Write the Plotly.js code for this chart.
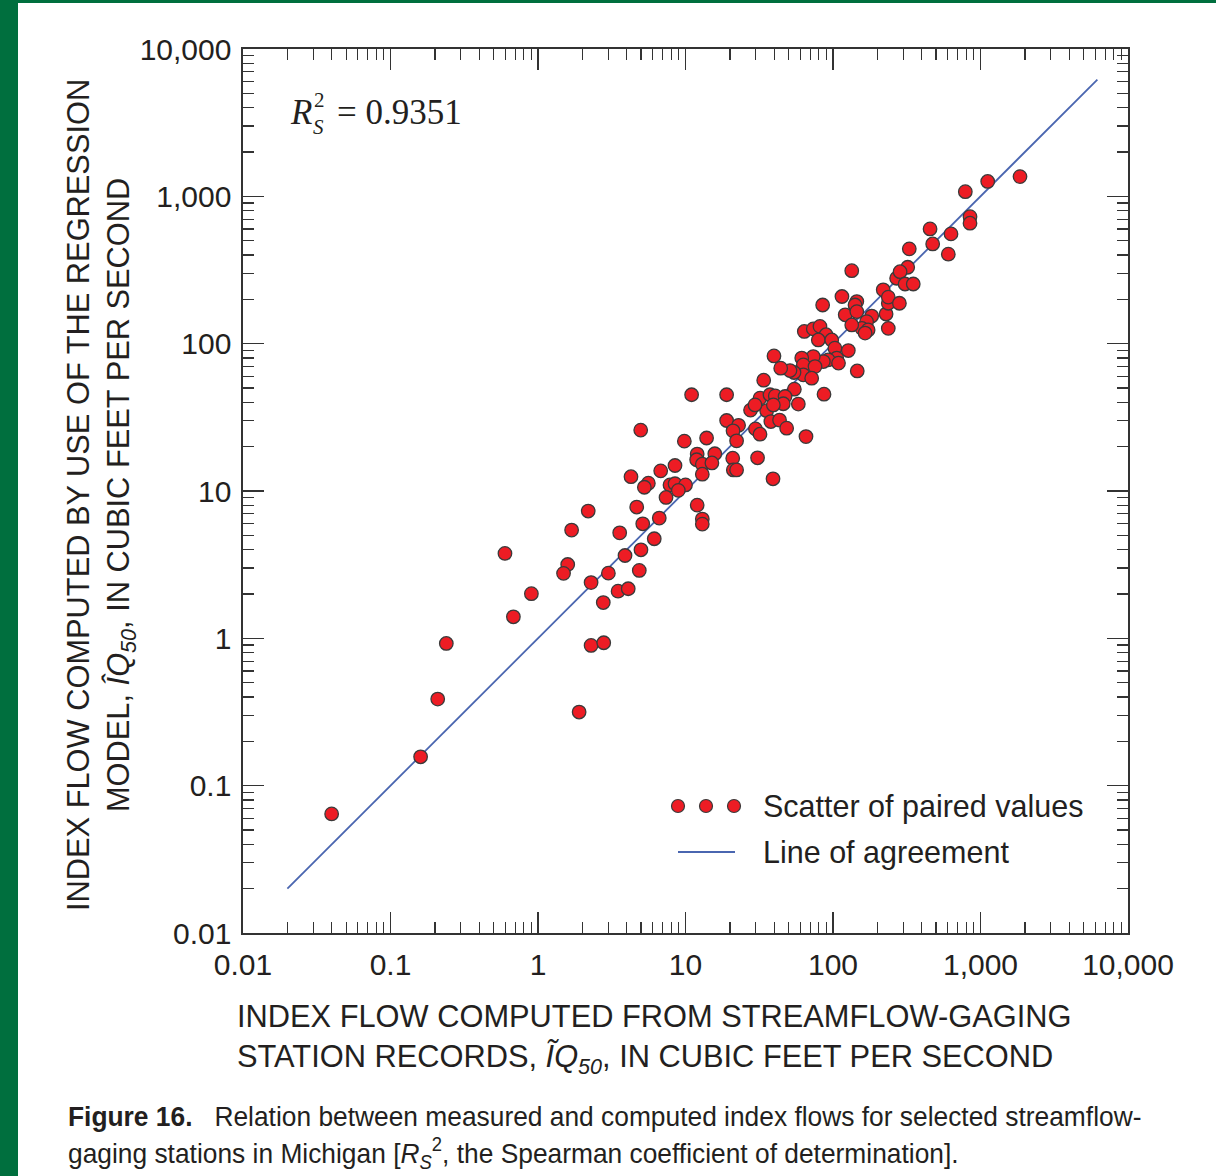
<!DOCTYPE html>
<html>
<head>
<meta charset="utf-8">
<script src="https://cdn.plot.ly/plotly-3.0.1.min.js"></script>
<style>
  html, body { margin: 0; padding: 0; background: #ffffff; }
  #wrap { width: 1198px; height: 1173px; border-left: 18px solid #006f3e; border-top: 3px solid #006f3e; }
  #chart { width: 1198px; height: 1173px; }
</style>
</head>
<body>
<div id="wrap"><div id="chart"></div></div>
<script>
// Index flow computed from streamflow-gaging station records (x), cubic feet per second
const measured = [
  0.0399, 0.160, 0.209, 0.239, 0.597, 0.681, 0.902, 1.69, 2.19, 1.59,
  1.49, 2.29, 3.00, 3.58, 3.89, 2.77, 3.49, 4.09, 2.29, 2.79,
  1.90, 4.67, 4.99, 4.86, 5.13, 4.27, 11.0, 19.0, 33.9, 4.97,
  9.82, 13.9, 19.0, 22.9, 21.0, 22.2, 27.6, 32.0, 37.4, 40.6,
  35.5, 29.8, 32.0, 37.9, 43.4, 30.8, 39.2, 20.9, 21.1, 22.2,
  12.0, 11.9, 13.0, 15.8, 15.1, 13.0, 8.49, 6.79, 5.60, 5.26,
  7.85, 8.49, 10.0, 8.94, 7.38, 12.0, 13.0, 13.0, 6.64, 6.14,
  134, 115, 85.1, 145, 141, 121, 145, 183, 169, 157,
  173, 165, 237, 229, 237, 219, 270, 134, 63.9, 73.5,
  81.6, 89.7, 79.5, 98.0, 103, 127, 106, 92.9, 109, 86.0,
  73.5, 61.4, 62.9, 75.5, 62.9, 71.7, 54.4, 51.1, 44.2, 39.8,
  146, 54.7, 47.3, 29.6, 46.0, 39.4, 58.2, 86.9, 48.5, 65.6,
  1853, 1119, 789, 849, 849, 455, 631, 474, 605, 329,
  321, 285, 308, 350, 237, 282
];
// Index flow computed by use of the regression model (y), cubic feet per second
const computed = [
  0.0643, 0.157, 0.387, 0.923, 3.77, 1.40, 2.01, 5.43, 7.31, 3.17,
  2.76, 2.39, 2.77, 5.20, 3.65, 1.75, 2.09, 2.17, 0.895, 0.933,
  0.316, 7.78, 3.99, 2.89, 5.99, 12.5, 45.0, 45.0, 56.5, 25.9,
  21.8, 22.9, 30.1, 27.9, 25.6, 21.9, 35.4, 42.7, 45.0, 44.2,
  35.1, 26.4, 24.3, 29.6, 30.3, 16.8, 12.1, 16.7, 13.9, 13.9,
  17.8, 16.3, 15.2, 17.9, 15.5, 13.0, 14.9, 13.7, 11.3, 10.6,
  11.0, 11.2, 11.0, 10.1, 9.04, 8.02, 6.45, 5.96, 6.55, 4.74,
  313, 209, 183, 193, 183, 157, 165, 154, 141, 127,
  124, 118, 127, 159, 188, 232, 278, 134, 121, 126,
  131, 115, 106, 106, 93.2, 89.8, 79.8, 77.6, 73.8, 75.6,
  81.7, 79.8, 71.8, 69.9, 61.4, 58.3, 63.7, 65.7, 68.2, 82.6,
  65.3, 49.1, 43.8, 38.4, 39.1, 38.4, 38.9, 45.4, 26.7, 23.4,
  1361, 1262, 1076, 728, 657, 601, 556, 475, 405, 440,
  330, 308, 254, 254, 207, 188
];
// Line of agreement end points (x = y)
const agreementX = [0.02, 6200];
const agreementY = [0.02, 6200];

// Tick labels
const tickValues = [0.01, 0.1, 1, 10, 100, 1000, 10000];
const tickLabels = ["0.01", "0.1", "1", "10", "100", "1,000", "10,000"];
const statText = "= 0.9351";

// minor tick positions (2..9 in each decade)
const minorVals = [];
for (let e = -2; e < 4; e++) {
  for (let d = 2; d <= 9; d++) minorVals.push(+(d * Math.pow(10, e)).toPrecision(3));
}

const W = 1198, H = 1173;
const M = { l: 225, r: 88, t: 46, b: 243 };
const PW = W - M.l - M.r, PH = H - M.t - M.b;
const px = x => (x - M.l) / PW;
const py = y => (H - M.b - y) / PH;

const FONT = "Liberation Sans, Arial, Helvetica, sans-serif";
const SERIF = "Liberation Serif, Times New Roman, serif";
const TXT = "#231f20";
const AXC = "#333333";
const RED = "#ed1c24";
const BLUE = "#4a66b0";

function axisCfg(standoff) {
  return {
    type: "log",
    range: [-2, 4],
    tickmode: "array",
    tickvals: tickValues,
    ticktext: tickLabels,
    ticks: "inside",
    ticklen: 21,
    tickwidth: 1.3,
    tickcolor: AXC,
    showline: true,
    linecolor: AXC,
    linewidth: 1.6,
    mirror: "allticks",
    showgrid: false,
    zeroline: false,
    tickfont: { family: FONT, size: 30, color: TXT },
    ticklabelstandoff: standoff,
    minor: {
      tickmode: "array",
      tickvals: minorVals,
      ticks: "inside",
      ticklen: 11,
      tickwidth: 1.2,
      tickcolor: AXC,
      showgrid: false
    }
  };
}

const traces = [
  {
    x: agreementX, y: agreementY,
    mode: "lines", type: "scatter",
    line: { color: BLUE, width: 1.8 },
    hoverinfo: "skip", showlegend: false
  },
  {
    x: measured, y: computed,
    mode: "markers", type: "scatter",
    marker: { size: 13.5, color: RED, line: { color: "#3a3a3a", width: 1.3 } },
    showlegend: false
  }
];

const ann = [];
// R_S^2 statistic
ann.push({ xref: "paper", yref: "paper", x: 0, y: 1, xanchor: "left", yanchor: "middle",
  xshift: 45, yshift: -63, showarrow: false,
  text: "<i>R</i>", font: { family: SERIF, size: 35, color: TXT } });
ann.push({ xref: "paper", yref: "paper", x: 0, y: 1, xanchor: "center", yanchor: "middle",
  xshift: 76, yshift: -51, showarrow: false,
  text: "2", font: { family: SERIF, size: 21, color: TXT } });
ann.push({ xref: "paper", yref: "paper", x: 0, y: 1, xanchor: "center", yanchor: "middle",
  xshift: 75, yshift: -78, showarrow: false,
  text: "<i>S</i>", font: { family: SERIF, size: 21, color: TXT } });
ann.push({ xref: "paper", yref: "paper", x: 0, y: 1, xanchor: "left", yanchor: "middle",
  xshift: 92, yshift: -63, showarrow: false,
  text: statText, font: { family: SERIF, size: 35, color: TXT } });

// legend texts
ann.push({ xref: "paper", yref: "paper", x: px(743), y: py(803), xanchor: "left", yanchor: "middle",
  showarrow: false, text: "Scatter of paired values", font: { family: FONT, size: 30.5, color: TXT } });
ann.push({ xref: "paper", yref: "paper", x: px(743), y: py(849), xanchor: "left", yanchor: "middle",
  showarrow: false, text: "Line of agreement", font: { family: FONT, size: 30.5, color: TXT } });

// axis titles
ann.push({ xref: "paper", yref: "paper", x: 0, y: 0.5, xanchor: "center", yanchor: "middle",
  xshift: -142, yshift: -4, showarrow: false, textangle: -90, align: "center",
  text: "INDEX FLOW COMPUTED BY USE OF THE REGRESSION<br>MODEL, <i>Î</i><i>Q</i><sub><i>50</i></sub>, IN CUBIC FEET PER SECOND",
  font: { family: FONT, size: 30.8, color: TXT } });
ann.push({ xref: "paper", yref: "paper", x: 0, y: 0, xanchor: "left", yanchor: "middle",
  xshift: -8, yshift: -106, showarrow: false, align: "left",
  text: "INDEX FLOW COMPUTED FROM STREAMFLOW-GAGING<br>STATION RECORDS, <i>Ĩ</i><i>Q</i><sub><i>50</i></sub>, IN CUBIC FEET PER SECOND",
  font: { family: FONT, size: 30.8, color: TXT } });

// caption
const captionText = "<b>Figure 16.</b>\u00a0\u00a0\u00a0Relation between measured and computed index flows for selected streamflow-<br>gaging stations in Michigan [<i>R</i><sub><i>S</i></sub><sup>2</sup>, the Spearman coefficient of determination].";
ann.push({ xref: "paper", yref: "paper", x: 0, y: 0, xanchor: "left", yanchor: "middle",
  xshift: -177, yshift: -203, showarrow: false, align: "left",
  text: captionText,
  font: { family: FONT, size: 28.5, color: TXT } });

const shapes = [];
// legend dots
[660, 688, 716].forEach(cx => {
  shapes.push({ type: "circle", xref: "paper", yref: "paper",
    xsizemode: "pixel", ysizemode: "pixel", xanchor: px(cx), yanchor: py(803),
    x0: -6.5, x1: 6.5, y0: -6.5, y1: 6.5,
    fillcolor: RED, line: { color: "#3a3a3a", width: 1.2 } });
});
// legend line
shapes.push({ type: "line", xref: "paper", yref: "paper",
  x0: px(660), x1: px(717), y0: py(849), y1: py(849),
  line: { color: BLUE, width: 1.8 } });

const layout = {
  width: W, height: H,
  margin: M,
  paper_bgcolor: "#ffffff",
  plot_bgcolor: "#ffffff",
  showlegend: false,
  xaxis: axisCfg(4),
  yaxis: axisCfg(4),
  annotations: ann,
  shapes: shapes
};

Plotly.newPlot("chart", traces, layout, { displayModeBar: false, staticPlot: true }).then(gd => {
  // condense the caption (the original uses a condensed typeface)
  const groups = gd.querySelectorAll(".annotation");
  groups.forEach(g => {
    const t = g.querySelector("text.annotation-text");
    if (t && t.textContent.indexOf("Figure 16") === 0) {
      const w = t.getBBox().width;
      const s = 1074 / w;
      t.style.transformBox = "fill-box";
      t.style.transformOrigin = "left center";
      t.style.transform = "scaleX(" + s.toFixed(4) + ")";
    }
  });
});
</script>
</body>
</html>
